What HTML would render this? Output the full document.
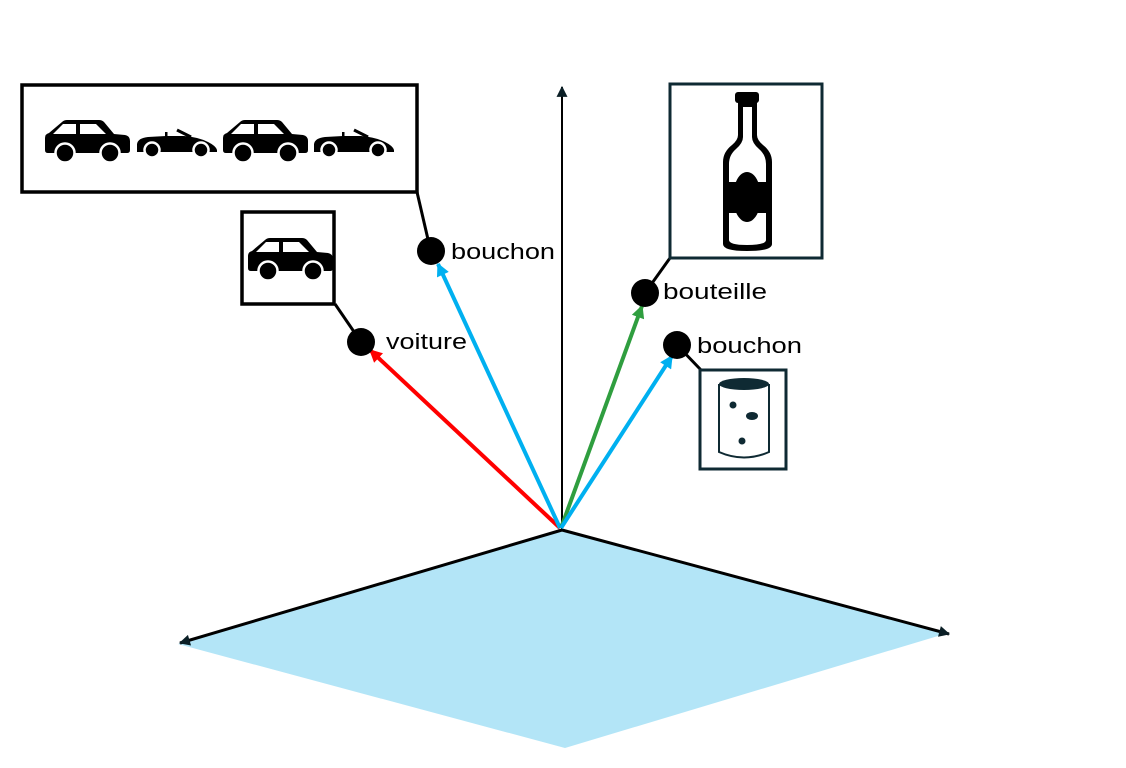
<!DOCTYPE html>
<html><head><meta charset="utf-8"><style>
html,body{margin:0;padding:0;background:#fff;}
svg{display:block;}
text{font-family:"Liberation Sans",sans-serif;font-size:22px;fill:#000;}
</style></head><body>
<svg width="1126" height="768" viewBox="0 0 1126 768" xmlns="http://www.w3.org/2000/svg">
<defs>
<marker id="mk" viewBox="0 0 10 10" refX="9" refY="5" markerUnits="userSpaceOnUse" markerWidth="13" markerHeight="11" orient="auto"><path d="M0,0 L10,5 L0,10 Z" fill="#0b1f26"/></marker>
<marker id="mr" viewBox="0 0 10 10" refX="9" refY="5" markerUnits="userSpaceOnUse" markerWidth="15" markerHeight="13" orient="auto"><path d="M0,0 L10,5 L0,10 Z" fill="#ff0000"/></marker>
<marker id="mb" viewBox="0 0 10 10" refX="9" refY="5" markerUnits="userSpaceOnUse" markerWidth="15" markerHeight="13" orient="auto"><path d="M0,0 L10,5 L0,10 Z" fill="#00b0f0"/></marker>
<marker id="mg" viewBox="0 0 10 10" refX="9" refY="5" markerUnits="userSpaceOnUse" markerWidth="15" markerHeight="13" orient="auto"><path d="M0,0 L10,5 L0,10 Z" fill="#2f9e3f"/></marker>
</defs>

<!-- ground plane -->
<polygon points="562,530 178,644 565,748 948,633" fill="#b3e5f7"/>
<line x1="562" y1="530" x2="180" y2="643" stroke="#000" stroke-width="3" marker-end="url(#mk)"/>
<line x1="562" y1="530" x2="949" y2="634" stroke="#000" stroke-width="3" marker-end="url(#mk)"/>
<!-- vertical axis -->
<line x1="562" y1="530" x2="562" y2="87" stroke="#000" stroke-width="2" marker-end="url(#mk)"/>

<!-- colored vectors -->
<line x1="560" y1="528" x2="370" y2="350" stroke="#ff0000" stroke-width="4" marker-end="url(#mr)"/>
<line x1="560" y1="528" x2="438" y2="264" stroke="#00b0f0" stroke-width="4" marker-end="url(#mb)"/>
<line x1="561" y1="528" x2="642" y2="306" stroke="#2f9e3f" stroke-width="4" marker-end="url(#mg)"/>
<line x1="561" y1="528" x2="672" y2="356" stroke="#00b0f0" stroke-width="4" marker-end="url(#mb)"/>

<!-- connectors -->
<line x1="417" y1="192" x2="430" y2="248" stroke="#000" stroke-width="3"/>
<line x1="335" y1="304" x2="361" y2="342" stroke="#000" stroke-width="3"/>
<line x1="670" y1="258" x2="645" y2="293" stroke="#000" stroke-width="3"/>
<line x1="677" y1="345" x2="701" y2="370" stroke="#000" stroke-width="3"/>

<!-- dots -->
<circle cx="431" cy="251" r="14" fill="#000"/>
<circle cx="361" cy="342" r="14" fill="#000"/>
<circle cx="645" cy="293" r="14" fill="#000"/>
<circle cx="677" cy="345" r="14" fill="#000"/>

<!-- labels -->
<text x="451" y="259" textLength="104" lengthAdjust="spacingAndGlyphs">bouchon</text>
<text x="386" y="349" textLength="81" lengthAdjust="spacingAndGlyphs">voiture</text>
<text x="663" y="299" textLength="104" lengthAdjust="spacingAndGlyphs">bouteille</text>
<text x="697" y="353" textLength="105" lengthAdjust="spacingAndGlyphs">bouchon</text>

<!-- big cars box -->
<rect x="22" y="85" width="395" height="107" fill="#fff" stroke="#000" stroke-width="3.5"/>

<!-- sedan 1 -->
<g transform="translate(45,120)">
<path d="M0,18 Q0,14 4,13 L17,2 Q19,0 22,0 L54,0 Q57,0 59,2 L69,14 L80,15 Q85,16 85,21 L85,30 Q85,33 82,33 L3,33 Q0,33 0,30 Z" fill="#000"/>
<path d="M8,14 L18,4 L31,4 L31,14 Z M35,4 L51,4 L61,14 L35,14 Z" fill="#fff"/>
<circle cx="20" cy="33" r="9.5" fill="#000" stroke="#fff" stroke-width="2.5"/>
<circle cx="65" cy="33" r="9.5" fill="#000" stroke="#fff" stroke-width="2.5"/>
</g>
<!-- convertible 1 -->
<g transform="translate(136,128)">
<path d="M1,24 L1,16 Q2,10 12,9 L30,8 L48,8 Q62,9 72,14 Q80,18 81,22 L81,24 Z" fill="#000"/>
<rect x="29" y="4" width="2.5" height="5" fill="#000"/>
<line x1="41" y1="2" x2="55" y2="9" stroke="#000" stroke-width="3"/>
<circle cx="16" cy="22" r="7.5" fill="#000" stroke="#fff" stroke-width="2.5"/>
<circle cx="65" cy="22" r="7.5" fill="#000" stroke="#fff" stroke-width="2.5"/>
</g>
<!-- sedan 2 -->
<g transform="translate(223,120)">
<path d="M0,18 Q0,14 4,13 L17,2 Q19,0 22,0 L54,0 Q57,0 59,2 L69,14 L80,15 Q85,16 85,21 L85,30 Q85,33 82,33 L3,33 Q0,33 0,30 Z" fill="#000"/>
<path d="M8,14 L18,4 L31,4 L31,14 Z M35,4 L51,4 L61,14 L35,14 Z" fill="#fff"/>
<circle cx="20" cy="33" r="9.5" fill="#000" stroke="#fff" stroke-width="2.5"/>
<circle cx="65" cy="33" r="9.5" fill="#000" stroke="#fff" stroke-width="2.5"/>
</g>
<!-- convertible 2 -->
<g transform="translate(313,128)">
<path d="M1,24 L1,16 Q2,10 12,9 L30,8 L48,8 Q62,9 72,14 Q80,18 81,22 L81,24 Z" fill="#000"/>
<rect x="29" y="4" width="2.5" height="5" fill="#000"/>
<line x1="41" y1="2" x2="55" y2="9" stroke="#000" stroke-width="3"/>
<circle cx="16" cy="22" r="7.5" fill="#000" stroke="#fff" stroke-width="2.5"/>
<circle cx="65" cy="22" r="7.5" fill="#000" stroke="#fff" stroke-width="2.5"/>
</g>

<!-- small car box -->
<rect x="242" y="212" width="92" height="92" fill="#fff" stroke="#000" stroke-width="3.5"/>
<g transform="translate(248,238)">
<path d="M0,18 Q0,14 4,13 L17,2 Q19,0 22,0 L54,0 Q57,0 59,2 L69,14 L80,15 Q85,16 85,21 L85,30 Q85,33 82,33 L3,33 Q0,33 0,30 Z" fill="#000"/>
<path d="M8,14 L18,4 L31,4 L31,14 Z M35,4 L51,4 L61,14 L35,14 Z" fill="#fff"/>
<circle cx="20" cy="33" r="9.5" fill="#000" stroke="#fff" stroke-width="2.5"/>
<circle cx="65" cy="33" r="9.5" fill="#000" stroke="#fff" stroke-width="2.5"/>
</g>

<!-- bottle box -->
<rect x="670" y="84" width="152" height="174" fill="#fff" stroke="#0f2a33" stroke-width="3"/>
<path d="M738,100 L757,100 L757,135 Q757,140 763,145 Q772,152 772,162 L772,244 Q772,251 747,251 Q723,251 723,244 L723,162 Q723,152 732,145 Q738,140 738,135 Z" fill="#000"/>
<path d="M743,107 L752,107 L752,137 Q752,143 759,149 Q766,155 766,164 L766,240 Q766,245 747,245 Q729,245 729,240 L729,164 Q729,155 736,149 Q743,143 743,137 Z" fill="#fff"/>
<rect x="735" y="92" width="24" height="11" rx="3" fill="#000"/>
<rect x="723" y="182" width="49" height="31" fill="#000"/>
<ellipse cx="747" cy="197" rx="14" ry="25" fill="#000"/>

<!-- can box -->
<rect x="700" y="370" width="86" height="99" fill="#fff" stroke="#0f2a33" stroke-width="3"/>
<path d="M719,384 L719,452 Q744,463 769,452 L769,384" fill="none" stroke="#0f2a33" stroke-width="2"/>
<ellipse cx="744" cy="384" rx="25" ry="6" fill="#0f2a33"/>
<circle cx="733" cy="405" r="3.5" fill="#0f2a33"/>
<ellipse cx="752" cy="416" rx="6" ry="4" fill="#0f2a33"/>
<circle cx="742" cy="441" r="3.5" fill="#0f2a33"/>
</svg>
</body></html>
